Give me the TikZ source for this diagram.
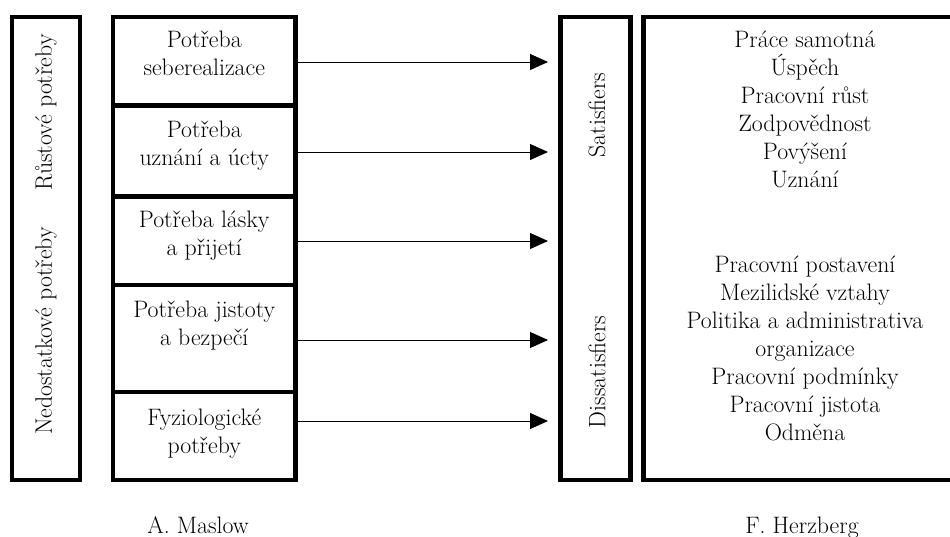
\documentclass[tikz,border=0pt]{standalone}
\usepackage{fontspec}
\usetikzlibrary{arrows.meta}
\begin{document}
\begin{tikzpicture}[x=1pt,y=-1pt,
  frame/.style={draw, line width=4.5pt, rectangle, inner sep=0pt},
  txt/.style={font=\fontsize{23.8}{28}\selectfont, align=center, inner sep=0pt},
  conn/.style={line width=0.9pt, -{Triangle[length=18pt,width=16pt]}}]
\useasboundingbox (0,0) rectangle (950,537);
\clip (0,0) rectangle (950,537);

% left group frame
\node[frame, minimum width=68pt, minimum height=463pt] (grp) at (46,248.5) {};
\node[txt, rotate=90] (grow) at (46,112.5) {Růstové potřeby};
\node[txt, rotate=90] (lack) at (46,331) {Nedostatkové potřeby};

% Maslow pyramid as a stack of boxes
\node[frame, minimum width=182.5pt, minimum height=88.5pt] (m1) at (204.25,61.25) {};
\node[frame, minimum width=182.5pt, minimum height=91pt]   (m2) at (204.25,151) {};
\node[frame, minimum width=182.5pt, minimum height=88.5pt] (m3) at (204.25,240.75) {};
\node[frame, minimum width=182.5pt, minimum height=107pt]  (m4) at (204.25,338.5) {};
\node[frame, minimum width=182.5pt, minimum height=88pt]   (m5) at (204.25,436) {};

\node[txt, anchor=north] (m1t) at (204.25,31)  {Potřeba\\seberealizace};
\node[txt, anchor=north] (m2t) at (204.25,121) {Potřeba\\uznání a úcty};
\node[txt, anchor=north] (m3t) at (204.25,211) {Potřeba lásky\\a přijetí};
\node[txt, anchor=north] (m4t) at (204.25,301) {Potřeba jistoty\\a bezpečí};
\node[txt, anchor=north] (m5t) at (204.25,409) {Fyziologické\\potřeby};

% Herzberg factor columns
\node[frame, minimum width=70pt, minimum height=463pt] (fac) at (595.5,248.5) {};
\node[txt, rotate=90] (sat) at (597,115) {Satisfiers};
\node[txt, rotate=90] (dis) at (597,372) {Dissatisfiers};

\node[frame, minimum width=321.5pt, minimum height=463pt] (hz) at (804.25,248.5) {};
\node[txt, anchor=north] (satl) at (805,31)
  {Práce samotná\\Úspěch\\Pracovní růst\\Zodpovědnost\\Povýšení\\Uznání};
\node[txt, anchor=north] (disl) at (805,256)
  {Pracovní postavení\\Mezilidské vztahy\\Politika a administrativa\\organizace\\Pracovní podmínky\\Pracovní jistota\\Odměna};

% arrow end points in front of the factor column
\coordinate (e1) at (548,62);
\coordinate (e2) at (548,152);
\coordinate (e3) at (548,241);
\coordinate (e4) at (548,340);
\coordinate (e5) at (548,421);

\draw[conn] (m1.east |- e1) -- (e1);
\draw[conn] (m2.east |- e2) -- (e2);
\draw[conn] (m3.east |- e3) -- (e3);
\draw[conn] (m4.east |- e4) -- (e4);
\draw[conn] (m5.east |- e5) -- (e5);

% captions
\node[txt, anchor=base] (am) at (198,533) {A. Maslow};
\node[txt, anchor=base] (fh) at (802,533) {F. Herzberg};
\end{tikzpicture}
\end{document}
